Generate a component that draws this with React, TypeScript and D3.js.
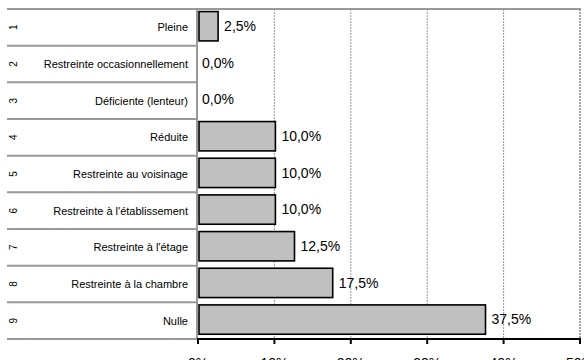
import React from "react";
import * as d3 from "d3";

const categories = [
  "Pleine",
  "Restreinte occasionnellement",
  "Déficiente (lenteur)",
  "Réduite",
  "Restreinte au voisinage",
  "Restreinte à l'établissement",
  "Restreinte à l'étage",
  "Restreinte à la chambre",
  "Nulle",
];
const rowNumbers = ["1", "2", "3", "4", "5", "6", "7", "8", "9"];
const values = [2.5, 0, 0, 10, 10, 10, 12.5, 17.5, 37.5];
const xTicks = [0, 10, 20, 30, 40, 50];

const W = 584;
const H = 360;
const tableLeft = 7;
const plotLeft = 198;
const plotRight = 580;
const plotTop = 9;
const plotBottom = 339;
const FONT = "'Liberation Sans', Arial, sans-serif";

export default function App() {
  const x = d3.scaleLinear().domain([0, 50]).range([plotLeft, plotRight]);
  const y = d3
    .scaleBand<string>()
    .domain(categories)
    .range([plotTop, plotBottom])
    .padding(0);
  const bw = y.bandwidth();
  const barH = bw * 0.8;
  const barOff = bw * 0.07;
  const fmt = (v: number) => v.toFixed(1).replace(".", ",") + "%";

  return (
    <svg
      width={W}
      height={H}
      style={{ position: "absolute", left: 0, top: 0, background: "#fff" }}
      fontFamily={FONT}
    >
      {xTicks.slice(1, -1).map((t) => (
        <line
          key={"g" + t}
          x1={x(t)}
          x2={x(t)}
          y1={plotTop}
          y2={plotBottom}
          stroke="#999"
          strokeWidth={1}
          strokeDasharray="2,1"
        />
      ))}
      <line
        x1={x(50)}
        x2={x(50)}
        y1={plotTop}
        y2={plotBottom}
        stroke="#888"
        strokeWidth={1.5}
        strokeDasharray="2,1"
      />
      <line x1={tableLeft} x2={plotRight + 1} y1={plotTop} y2={plotTop} stroke="#999" strokeWidth={2} />
      {categories.map((c, i) => (
        <line
          key={"r" + i}
          x1={tableLeft}
          x2={plotLeft - 1}
          y1={(y(c) as number) + bw}
          y2={(y(c) as number) + bw}
          stroke="#999"
          strokeWidth={2}
        />
      ))}
      <line x1={plotLeft - 1} x2={plotLeft - 1} y1={plotTop} y2={plotBottom} stroke="#999" strokeWidth={2} />
      {categories.map((c, i) =>
        values[i] > 0 ? (
          <rect
            key={"b" + i}
            x={x(0) + 1}
            y={(y(c) as number) + barOff}
            width={x(values[i]) - x(0)}
            height={barH}
            fill="#c0c0c0"
            stroke="#000"
            strokeWidth={1.6}
          />
        ) : null
      )}
      {categories.map((c, i) => (
        <text
          key={"v" + i}
          x={x(values[i]) + (values[i] > 0 ? 7 : 4)}
          y={(y(c) as number) + barOff + barH / 2}
          dy="0.35em"
          fontSize={14}
          fill="#000"
        >
          {fmt(values[i])}
        </text>
      ))}
      {categories.map((c, i) => (
        <text
          key={"c" + i}
          x={188}
          y={(y(c) as number) + bw / 2}
          dy="0.35em"
          fontSize={11}
          textAnchor="end"
          fill="#000"
        >
          {c}
        </text>
      ))}
      {categories.map((c, i) => (
        <text
          key={"n" + i}
          transform={`translate(13,${(y(c) as number) + bw / 2}) rotate(-90)`}
          dy="0.35em"
          fontSize={10}
          textAnchor="middle"
          fill="#000"
        >
          {rowNumbers[i]}
        </text>
      ))}
      <line x1={plotLeft - 1} x2={plotRight + 1} y1={plotBottom} y2={plotBottom} stroke="#000" strokeWidth={2} />
      {xTicks.map((t) => (
        <g key={"t" + t}>
          <line x1={x(t)} x2={x(t)} y1={plotBottom} y2={plotBottom + 5} stroke="#000" strokeWidth={2} />
          <text x={x(t)} y={plotBottom + 29} fontSize={14} textAnchor="middle" fill="#000">
            {t + "%"}
          </text>
        </g>
      ))}
    </svg>
  );
}
